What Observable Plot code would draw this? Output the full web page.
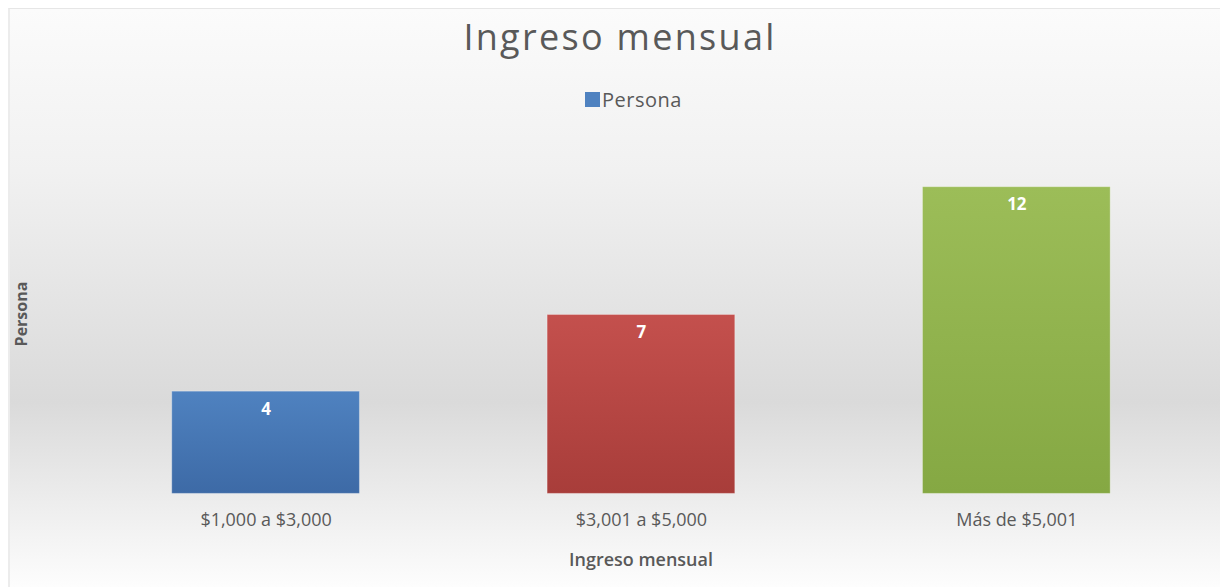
<!DOCTYPE html>
<html>
<head>
<meta charset="utf-8">
<script src="https://cdn.jsdelivr.net/npm/d3@7"></script>
<script src="https://cdn.jsdelivr.net/npm/@observablehq/plot@0.6"></script>
<style>
  html, body { margin: 0; padding: 0; background: #ffffff; }
  body { width: 1220px; height: 587px; position: relative; overflow: hidden; font-family: "Open Sans", sans-serif; }
  #panel {
    position: absolute; left: 8px; top: 8px; width: 1212px; height: 579px;
    overflow: hidden; box-sizing: border-box;
    border-top: 1px solid #e6e6e6; border-left: 2px solid #ececec;
    background: linear-gradient(to bottom, #fbfbfb 0%, #f1f1f1 28%, #dadada 68%, #fdfdfd 100%);
  }
  .abs { position: absolute; white-space: nowrap; color: #595959; line-height: 1; }
</style>
</head>
<body>
<div id="panel"></div>
<script>
// ---- data ----
const categories = ["$1,000 a $3,000", "$3,001 a $5,000", "Más de $5,001"];
const values = [4, 7, 12];
const seriesName = "Persona";
const chartTitle = "Ingreso mensual";
const xTitle = "Ingreso mensual";
const yTitle = "Persona";
const barTop = ["#4f82c0", "#c4504d", "#9cbd58"];
const barBottom = ["#3d6aa6", "#a83d3a", "#85a843"];

const data = categories.map((c, i) => ({categoria: c, persona: values[i]}));
const panel = document.getElementById("panel");

// title
const t = document.createElement("div");
t.className = "abs";
t.textContent = chartTitle;
Object.assign(t.style, {left: "610px", top: "10px", transform: "translateX(-50%)", fontSize: "36px", letterSpacing: "2.3px"});
panel.appendChild(t);

// legend
const sw = document.createElement("div");
Object.assign(sw.style, {position: "absolute", left: "575px", top: "83px", width: "15px", height: "15px", background: barTop[0]});
panel.appendChild(sw);
const lt = document.createElement("div");
lt.className = "abs";
lt.textContent = seriesName;
Object.assign(lt.style, {left: "592px", top: "81px", fontSize: "20px", letterSpacing: "0.5px"});
panel.appendChild(lt);

// y title (rotated, hugging the panel's left edge)
const ns = "http://www.w3.org/2000/svg";
const ysvg = document.createElementNS(ns, "svg");
ysvg.setAttribute("width", 40); ysvg.setAttribute("height", 579);
Object.assign(ysvg.style, {position: "absolute", left: "0px", top: "0px"});
const yt = document.createElementNS(ns, "text");
yt.setAttribute("transform", "translate(17,305) rotate(-90)");
yt.setAttribute("text-anchor", "middle");
yt.setAttribute("fill", "#595959");
yt.setAttribute("font-size", "16");
yt.setAttribute("font-weight", "bold");
yt.setAttribute("font-family", "Open Sans");
yt.textContent = yTitle;
ysvg.appendChild(yt);
panel.appendChild(ysvg);

// chart
const chart = Plot.plot({
  width: 1212, height: 462,
  marginLeft: 69.5, marginRight: 14.5, marginTop: 10.6, marginBottom: 93,
  style: {background: "transparent", overflow: "visible", fontFamily: "Open Sans", color: "#595959"},
  x: {domain: categories, paddingInner: 0.5, paddingOuter: 0.25, label: null},
  y: {domain: [0, 14], axis: null},
  color: {domain: categories, range: categories.map((c, i) => `url(#gb${i})`)},
  marks: [
    Plot.barY(data, {x: "categoria", y: "persona", fill: "categoria", stroke: "#ffffff", strokeOpacity: 0.3, strokeWidth: 1}),
    Plot.text(data, {x: "categoria", y: "persona", text: d => String(d.persona), dy: 17.5, lineAnchor: "middle", fill: "white", fontWeight: "bold", fontSize: 17}),
    Plot.axisX({tickSize: 0, tickPadding: 19, fontSize: 18, fill: "#595959", label: null}),
    Plot.text([xTitle], {text: d => d, frameAnchor: "bottom", dy: 66, lineAnchor: "middle", fontSize: 18, fontWeight: 600, fill: "#595959"})
  ]
});
const defs = document.createElementNS(ns, "defs");
barTop.forEach((c, i) => {
  const g = document.createElementNS(ns, "linearGradient");
  g.setAttribute("id", `gb${i}`);
  g.setAttribute("x1", 0); g.setAttribute("y1", 0); g.setAttribute("x2", 0); g.setAttribute("y2", 1);
  const s1 = document.createElementNS(ns, "stop"); s1.setAttribute("offset", "0"); s1.setAttribute("stop-color", c);
  const s2 = document.createElementNS(ns, "stop"); s2.setAttribute("offset", "1"); s2.setAttribute("stop-color", barBottom[i]);
  g.appendChild(s1); g.appendChild(s2); defs.appendChild(g);
});
chart.insertBefore(defs, chart.firstChild);
Object.assign(chart.style, {position: "absolute", left: "-2px", top: "116px"});
panel.appendChild(chart);
</script>
</body>
</html>
